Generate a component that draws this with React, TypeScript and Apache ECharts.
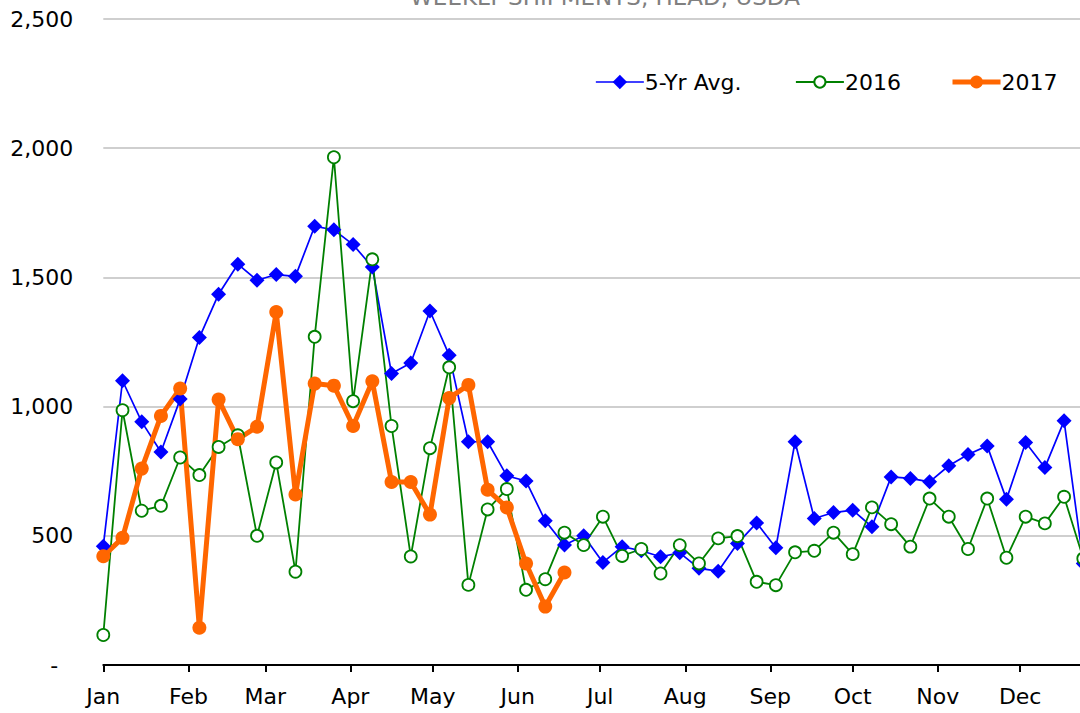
import React, { useEffect, useRef } from "react";
import * as echarts from "echarts";

const TITLE = "WEEKLY SHIPMENTS, HEAD, USDA";
const MONTHS = ["Jan", "Feb", "Mar", "Apr", "May", "Jun", "Jul", "Aug", "Sep", "Oct", "Nov", "Dec"];
const MONTH_START_DAYS = [0, 31, 59, 90, 120, 151, 181, 212, 243, 273, 304, 334];
const Y_TICKS = [0, 500, 1000, 1500, 2000, 2500];
const SERIES_NAMES = ["5-Yr Avg.", "2016", "2017"];

// week positions (day of year of each weekly report)
const WEEK_DAYS = Array.from({ length: 52 }, (_, i) => i * 7);

const AVG_5YR = [
  460, 1100, 941, 824, 1029, 1267, 1435, 1551, 1489, 1511, 1504, 1698, 1684, 1627, 1540, 1128,
  1169, 1370, 1199, 864, 864, 732, 712, 558, 464, 500, 397, 458, 442, 419, 434, 374, 363, 470,
  550, 454, 864, 567, 590, 599, 535, 728, 722, 709, 771, 815, 848, 641, 861, 764, 945, 393,
];
const Y2016 = [
  116, 986, 597, 616, 803, 735, 844, 889, 500, 784, 361, 1270, 1965, 1021, 1570, 925, 420, 839,
  1152, 310, 602, 681, 291, 332, 512, 464, 574, 422, 449, 354, 464, 393, 490, 499, 322, 309, 436,
  442, 512, 429, 610, 545, 458, 644, 574, 449, 644, 415, 574, 548, 651, 412,
];
const Y2017 = [
  421, 492, 760, 964, 1070, 144, 1027, 874, 922, 1366, 660, 1089, 1081, 925, 1098, 708, 708, 582,
  1033, 1084, 678, 610, 393, 226, 358,
];

const FONT = "DejaVu Sans";
const COLORS = ["#0000FF", "#008000", "#FF6600"];
const LEGEND_LEFT = [590, 790, 945];
const LEGEND_LINE_W = [1.7, 1.8, 5];
const LEGEND_ITEM_H = [18, 14, 16];

function pairs(values: number[]) {
  return values.map((v, i) => [WEEK_DAYS[i], v]);
}

export default function App() {
  const ref = useRef<HTMLDivElement>(null);
  useEffect(() => {
    if (!ref.current) return;
    const chart = echarts.init(ref.current, null, { renderer: "svg" });
    chart.setOption({
      animation: false,
      backgroundColor: "#ffffff",
      textStyle: { fontFamily: FONT },
      graphic: [
        {
          type: "text",
          x: 605,
          y: -3,
          style: {
            text: TITLE,
            fill: "#808080",
            font: `23px "${FONT}"`,
            align: "center",
            verticalAlign: "middle",
          },
        },
      ],
      legend: SERIES_NAMES.map((name, k) => ({
        left: LEGEND_LEFT[k],
        top: 66,
        orient: "horizontal",
        itemWidth: 48,
        itemHeight: LEGEND_ITEM_H[k],
        itemGap: 0,
        lineStyle: { width: LEGEND_LINE_W[k] },
        textStyle: { fontFamily: FONT, fontSize: 22, color: "#000", padding: [0, 0, 0, -4] },
        data: [name],
      })),
      grid: { left: 103.3, right: 0, top: 19, bottom: 48 },
      xAxis: {
        type: "value",
        min: 0,
        max: 355.8,
        axisLine: { show: true, lineStyle: { color: "#000", width: 2 } },
        axisTick: {
          show: true,
          customValues: MONTH_START_DAYS,
          length: 7,
          lineStyle: { color: "#000", width: 2 },
        },
        axisLabel: {
          customValues: MONTH_START_DAYS,
          formatter: (v: number) => MONTHS[MONTH_START_DAYS.indexOf(v)] ?? "",
          fontFamily: FONT,
          fontSize: 22,
          color: "#000",
          margin: 20,
        },
        splitLine: { show: false },
      },
      yAxis: {
        type: "value",
        min: Y_TICKS[0],
        max: Y_TICKS[Y_TICKS.length - 1],
        interval: 500,
        axisLine: { show: false },
        axisTick: { show: false },
        axisLabel: {
          fontFamily: FONT,
          fontSize: 22,
          color: "#000",
          margin: 30,
          formatter: (v: number) => (v === 0 ? "{d|-}" : v.toLocaleString("en-US")),
          rich: { d: { fontFamily: FONT, fontSize: 22, color: "#000", padding: [0, 15, 0, 0] } },
        },
        splitLine: { show: true, lineStyle: { color: "#BFBFBF", width: 1.5 } },
      },
      series: [
        {
          name: SERIES_NAMES[0],
          type: "line",
          clip: false,
          data: pairs(AVG_5YR),
          symbol: "diamond",
          symbolSize: 15,
          itemStyle: { color: COLORS[0] },
          lineStyle: { color: COLORS[0], width: 1.7 },
        },
        {
          name: SERIES_NAMES[1],
          type: "line",
          clip: false,
          data: pairs(Y2016),
          symbol: "circle",
          symbolSize: 12,
          itemStyle: { color: "#ffffff", borderColor: COLORS[1], borderWidth: 1.8 },
          lineStyle: { color: COLORS[1], width: 1.8 },
        },
        {
          name: SERIES_NAMES[2],
          type: "line",
          clip: false,
          data: pairs(Y2017),
          symbol: "circle",
          symbolSize: 14,
          itemStyle: { color: COLORS[2] },
          lineStyle: { color: COLORS[2], width: 5 },
        },
      ],
    });
    return () => chart.dispose();
  }, []);
  return (
    <div
      ref={ref}
      style={{ position: "absolute", left: 0, top: 0, width: 1080, height: 713 }}
    />
  );
}
